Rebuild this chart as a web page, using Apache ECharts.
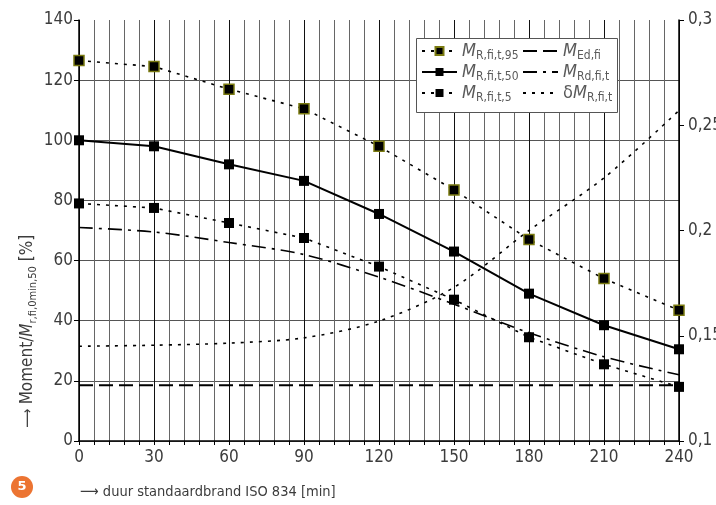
<!DOCTYPE html>
<html>
<head>
<meta charset="utf-8">
<script src="https://cdn.jsdelivr.net/npm/echarts@6/dist/echarts.min.js"></script>
<style>
  html, body { margin: 0; padding: 0; background: #fff; }
  #chart { width: 716px; height: 505px; }
</style>
</head>
<body>
<div id="chart"></div>
<script>
// duur standaardbrand (min)
var tijd = [0, 30, 60, 90, 120, 150, 180, 210, 240]

var mR95 = [126.5, 124.5, 117, 110.5, 98, 83.5, 67, 54, 43.5]
var mR50 = [100, 98, 92, 86.5, 75.5, 63, 49, 38.5, 30.5]
var mR5 = [79, 77.5, 72.5, 67.5, 58, 47, 34.5, 25.5, 18]
var mRd = [71, 69.5, 66, 62, 54.5, 45.5, 36, 28, 22]
var mEd = [18.5, 18.5, 18.5, 18.5, 18.5, 18.5, 18.5, 18.5, 18.5]
// rechter as
var deltaM = [0.145, 0.1455, 0.1465, 0.149, 0.157, 0.173, 0.2, 0.225, 0.257]

var linksTicks = [0, 20, 40, 60, 80, 100, 120, 140]
var rechtsTicks = [0.1, 0.15, 0.2, 0.25, 0.3]

function pairs(ys) {
  return tijd.map(function (t, i) { return [t, ys[i]] })
}

var font = '"Liberation Sans Narrow", "DejaVu Sans Condensed", sans-serif'
var txt = '#3c3c3c'
var legTxt = '#5a5a5a'

var rich = {
  m: { fontStyle: 'italic', fontSize: 18, fontFamily: font, color: legTxt, lineHeight: 21 },
  d: { fontSize: 18, fontFamily: font, color: legTxt, lineHeight: 21 },
  s: { fontSize: 12, fontFamily: font, color: legTxt, lineHeight: 14, verticalAlign: 'bottom' }
}

var legendText = {
  'R95': '{m|M}{s|R,fi,t,95}',
  'R50': '{m|M}{s|R,fi,t,50}',
  'R5': '{m|M}{s|R,fi,t,5}',
  'Ed': '{m|M}{s|Ed,fi}',
  'Rd': '{m|M}{s|Rd,fi,t}',
  'dM': '{d|δ}{m|M}{s|R,fi,t}'
}

var chart = echarts.init(document.getElementById('chart'))

var splitX = ['#111', '#666', '#666', '#666', '#666']
var splitY = linksTicks.map(function (v, i) { return i === linksTicks.length - 1 ? 'rgba(0,0,0,0)' : '#555' })

function legItem(n, noSymbol) {
  var it = { name: n }
  if (noSymbol) it.itemStyle = { opacity: 0 }
  return it
}

var option = {
  animation: false,
  grid: { left: 79, right: 37, top: 20, bottom: 64, outerBoundsMode: 'none', containLabel: false },
  xAxis: {
    type: 'value', min: 0, max: 240, interval: 6,
    axisLine: { lineStyle: { color: '#000', width: 1.5 } },
    axisTick: { show: true, length: 4, lineStyle: { color: '#000' } },
    axisLabel: {
      fontFamily: font, fontSize: 17, color: txt, margin: 8,
      formatter: function (v) { return Math.round(v) % 30 === 0 ? String(Math.round(v)) : '' }
    },
    splitLine: { show: true, lineStyle: { color: splitX, width: 1 } }
  },
  yAxis: [
    {
      type: 'value', min: 0, max: 140, interval: 20,
      axisLine: { show: true, lineStyle: { color: '#000', width: 1.5 } },
      axisTick: { show: true, length: 5, lineStyle: { color: '#000' } },
      axisLabel: { fontFamily: font, fontSize: 17, color: txt, margin: 6 },
      splitLine: { show: true, lineStyle: { color: splitY, width: 1 } }
    },
    {
      type: 'value', min: 0.1, max: 0.3, interval: 0.05, position: 'right',
      axisLine: { show: true, lineStyle: { color: '#000', width: 1.5 } },
      axisTick: { show: true, length: 5, lineStyle: { color: '#000' } },
      axisLabel: {
        fontFamily: font, fontSize: 17, color: txt, margin: 9,
        formatter: function (v) { return String(+v.toFixed(2)).replace('.', ',') }
      },
      splitLine: { show: false }
    }
  ],
  legend: [
    {
      left: 421, top: 42, orient: 'vertical', itemGap: 1.5, itemWidth: 35, itemHeight: 10,
      padding: 0,
      data: [legItem('R95'), legItem('R50'), legItem('R5')], z: 10,
      formatter: function (n) { return legendText[n] },
      textStyle: { rich: rich }
    },
    {
      left: 522, top: 42, orient: 'vertical', itemGap: 1.5, itemWidth: 35, itemHeight: 10,
      padding: 0,
      data: [legItem('Ed', true), legItem('Rd', true), legItem('dM', true)], z: 10,
      formatter: function (n) { return legendText[n] },
      textStyle: { rich: rich }
    }
  ],
  graphic: [
    {
      type: 'rect', z: 5, shape: { x: 416.5, y: 38.5, width: 201, height: 74 },
      style: { fill: '#fff', stroke: '#555', lineWidth: 1 }
    },
    {
      type: 'text', z: 5, x: 28, y: 428, rotation: Math.PI / 2,
      style: {
        text: '⟶ {n|Moment/}{m|M}{s|r,fi,0min,50}{n| [%]}',
        textVerticalAlign: 'middle', textAlign: 'left',
        rich: {
          n: { fontSize: 17, fontFamily: font, color: txt, lineHeight: 22 },
          m: { fontSize: 17, fontStyle: 'italic', fontFamily: font, color: txt, lineHeight: 22 },
          s: { fontSize: 11, fontFamily: font, color: txt, lineHeight: 11, verticalAlign: 'bottom' }
        },
        fontSize: 15, fill: txt, fontFamily: font
      }
    },
    {
      type: 'circle', z: 5, shape: { cx: 22, cy: 487, r: 11 },
      style: { fill: '#ec7432' }
    },
    {
      type: 'text', z: 6, x: 22, y: 487,
      style: { text: '5', fontSize: 13, fontWeight: 'bold', fill: '#fff', fontFamily: 'DejaVu Sans', textAlign: 'center', textVerticalAlign: 'middle' }
    },
    {
      type: 'text', z: 5, x: 80, y: 492,
      style: { text: '⟶ duur standaardbrand ISO 834 [min]', fontSize: 14.5, fontFamily: font, fill: txt, textVerticalAlign: 'middle' }
    }
  ],
  series: [
    {
      name: 'R95', type: 'line', data: pairs(mR95), z: 4,
      symbol: 'rect', symbolSize: 10,
      itemStyle: { color: '#000', borderColor: '#7a7a10', borderWidth: 1.5 },
      lineStyle: { color: '#000', width: 1.6, type: [3, 6] }
    },
    {
      name: 'R50', type: 'line', data: pairs(mR50), z: 4,
      symbol: 'rect', symbolSize: 10,
      itemStyle: { color: '#000' },
      lineStyle: { color: '#000', width: 2 }
    },
    {
      name: 'R5', type: 'line', data: pairs(mR5), z: 4,
      symbol: 'rect', symbolSize: 10,
      itemStyle: { color: '#000' },
      lineStyle: { color: '#000', width: 1.6, type: [3, 6] }
    },
    {
      name: 'Ed', type: 'line', data: pairs(mEd), z: 3,
      symbol: 'none', itemStyle: { color: '#000' },
      lineStyle: { color: '#000', width: 2, type: [14, 6] }
    },
    {
      name: 'Rd', type: 'line', data: pairs(mRd), z: 3, smooth: 0.3,
      symbol: 'none', itemStyle: { color: '#000' },
      lineStyle: { color: '#000', width: 1.6, type: [14, 6, 3, 6] }
    },
    {
      name: 'dM', type: 'line', data: pairs(deltaM), yAxisIndex: 1, z: 3, smooth: 0.3,
      symbol: 'none', itemStyle: { color: '#000' },
      lineStyle: { color: '#000', width: 1.6, type: [3, 6] }
    }
  ]
}

chart.setOption(option)
</script>
</body>
</html>
